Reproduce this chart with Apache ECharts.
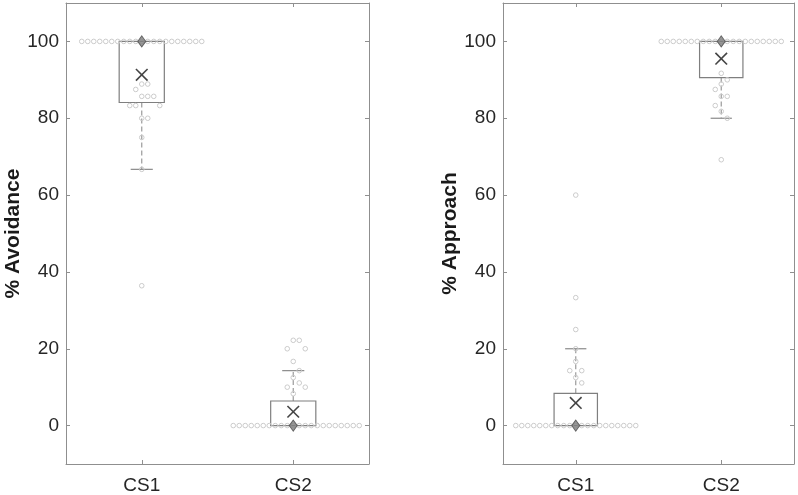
<!DOCTYPE html>
<html>
<head>
<meta charset="utf-8">
<script src="https://cdn.jsdelivr.net/npm/echarts@6/dist/echarts.min.js"></script>
<style>
  html, body { margin: 0; padding: 0; background: #fff; }
  #chart { width: 798px; height: 495px; }
</style>
</head>
<body>
<div id="chart"></div>
<script>
const categories = ['CS1', 'CS2'];
const yTicks = [0, 20, 40, 60, 80, 100];

function repeat(v, n) { return new Array(n).fill(v); }

// per-subject percentages
const avoidCS1 = repeat(100, 21).concat([88.9, 88.9, 87.5, 85.7, 85.7, 85.7, 83.3, 83.3, 83.3, 80, 80, 75, 66.7, 36.4]);
const avoidCS2 = repeat(0, 22).concat([22.2, 22.2, 20, 20, 16.7, 14.3, 12.5, 11.1, 10, 10, 8.3]);
const approachCS1 = repeat(0, 21).concat([60, 33.3, 25, 20, 16.7, 14.3, 14.3, 12.5, 11.1]);
const approachCS2 = repeat(100, 21).concat([91.7, 90, 88.9, 87.5, 85.7, 85.7, 83.3, 81.8, 80, 69.2]);

// box stats: [lower whisker, q1, median, q3, upper whisker]
const avoidBox = [[66.7, 84.1, 100, 100, 100], [0, 0, 0, 6.4, 14.3]];
const approachBox = [[0, 0, 0, 8.4, 20], [80, 90.6, 100, 100, 100]];
const avoidMean = [91.3, 3.6];
const approachMean = [5.9, 95.5];

const panels = [
  {name: '% Avoidance', groups: [avoidCS1, avoidCS2], box: avoidBox, mean: avoidMean, left: 66, width: 303, nameGap: 39},
  {name: '% Approach', groups: [approachCS1, approachCS2], box: approachBox, mean: approachMean, left: 503, width: 291, nameGap: 41}
];
const gridTop = 3, gridHeight = 463, yMin = -10, yMax = 110;
const pxPerUnit = gridHeight / (yMax - yMin);

const AXIS = '#8f8f8f';
const TEXT = '#262626';
const FONT = 'Liberation Sans, Arial, sans-serif';

// swarm: put each point at the nearest free slot beside the centre
// (a slot is taken if another point is closer than dx horizontally and dy vertically)
function swarm(values, dx, dy) {
  const placed = [];
  return values.map(function (v) {
    const y = v * pxPerUnit;
    let off = 0;
    for (let i = 0; i < 200; i++) {
      off = i === 0 ? 0 : (i % 2 ? 1 : -1) * Math.ceil(i / 2) * dx;
      const ok = placed.every(function (p) {
        return Math.abs(p[0] - off) >= dx - 0.01 || Math.abs(p[1] - y) >= dy;
      });
      if (ok) break;
    }
    placed.push([off, y]);
    return off;
  });
}

function renderBox(params, api) {
  const x = api.value(0);
  const bw = api.size([1, 0])[0];
  const half = bw * 0.149, capHalf = bw * 0.073;
  const low = api.coord([x, api.value(1)]);
  const q1 = api.coord([x, api.value(2)]);
  const q3 = api.coord([x, api.value(4)]);
  const high = api.coord([x, api.value(5)]);
  const cx = q1[0];
  const children = [];
  const dash = {stroke: '#9a9a9a', lineWidth: 1.2, lineDash: [5, 3]};
  const cap = {stroke: '#8a8a8a', lineWidth: 1.2};
  if (api.value(1) < api.value(2)) {
    children.push({type: 'line', shape: {x1: cx, y1: q1[1], x2: cx, y2: low[1]}, style: dash});
    children.push({type: 'line', shape: {x1: cx - capHalf, y1: low[1], x2: cx + capHalf, y2: low[1]}, style: cap});
  }
  if (api.value(5) > api.value(4)) {
    children.push({type: 'line', shape: {x1: cx, y1: q3[1], x2: cx, y2: high[1]}, style: dash});
    children.push({type: 'line', shape: {x1: cx - capHalf, y1: high[1], x2: cx + capHalf, y2: high[1]}, style: cap});
  }
  children.push({
    type: 'rect',
    shape: {x: cx - half, y: q3[1], width: half * 2, height: q1[1] - q3[1]},
    style: {fill: 'none', stroke: '#7f7f7f', lineWidth: 1.2}
  });
  return {type: 'group', children: children};
}

function renderPoint(params, api) {
  const c = api.coord([api.value(0), api.value(1)]);
  return {
    type: 'circle',
    shape: {cx: c[0] + api.value(2), cy: c[1], r: 2.3},
    style: {fill: 'none', stroke: '#cbcbcb', lineWidth: 1}
  };
}

function renderMean(params, api) {
  const c = api.coord([api.value(0), api.value(1)]);
  const s = 5.8;
  return {
    type: 'group',
    children: [
      {type: 'line', shape: {x1: c[0] - s, y1: c[1] - s, x2: c[0] + s, y2: c[1] + s}, style: {stroke: '#444', lineWidth: 1.6}},
      {type: 'line', shape: {x1: c[0] - s, y1: c[1] + s, x2: c[0] + s, y2: c[1] - s}, style: {stroke: '#444', lineWidth: 1.6}}
    ]
  };
}

const grid = [], xAxis = [], yAxis = [], series = [];

panels.forEach(function (p, i) {
  grid.push({left: p.left, top: gridTop, width: p.width, height: gridHeight});
  const tick = {show: true, inside: true, length: 4, alignWithLabel: true, lineStyle: {color: AXIS}};
  xAxis.push({
    gridIndex: i, type: 'category', data: categories, position: 'bottom',
    axisLine: {onZero: false, lineStyle: {color: AXIS, width: 1}},
    axisTick: tick,
    axisLabel: {fontSize: 19, color: TEXT, margin: 12, fontFamily: FONT}
  });
  xAxis.push({
    gridIndex: i, type: 'category', data: categories, position: 'top',
    axisLine: {onZero: false, lineStyle: {color: AXIS, width: 1}},
    axisTick: tick, axisLabel: {show: false}
  });
  const yTick = {show: true, inside: true, length: 4, customValues: yTicks, lineStyle: {color: AXIS}};
  yAxis.push({
    gridIndex: i, type: 'value', min: yMin, max: yMax, position: 'left',
    name: p.name, nameLocation: 'middle', nameGap: p.nameGap,
    nameTextStyle: {fontSize: 21, fontWeight: 'bold', color: '#1a1a1a', fontFamily: FONT},
    axisLine: {show: true, onZero: false, lineStyle: {color: AXIS, width: 1}},
    axisTick: yTick,
    axisLabel: {customValues: yTicks, fontSize: 19, color: TEXT, margin: 7, fontFamily: FONT},
    splitLine: {show: false}
  });
  yAxis.push({
    gridIndex: i, type: 'value', min: yMin, max: yMax, position: 'right',
    axisLine: {show: true, onZero: false, lineStyle: {color: AXIS, width: 1}},
    axisTick: yTick, axisLabel: {show: false}, splitLine: {show: false}
  });

  const xi = i * 2, yi = i * 2;
  series.push({
    type: 'custom', xAxisIndex: xi, yAxisIndex: yi, z: 2,
    renderItem: renderBox, encode: {x: 0, y: [1, 2, 3, 4, 5]},
    data: p.box.map(function (b, k) { return [k].concat(b); })
  });
  const pts = [];
  p.groups.forEach(function (vals, k) {
    const offs = swarm(vals, 6, 10);
    vals.forEach(function (v, j) { pts.push([k, v, offs[j]]); });
  });
  series.push({
    type: 'custom', xAxisIndex: xi, yAxisIndex: yi, z: 3,
    renderItem: renderPoint, encode: {x: 0, y: 1}, data: pts
  });
  series.push({
    type: 'scatter', xAxisIndex: xi, yAxisIndex: yi, z: 4,
    symbol: 'diamond', symbolSize: [8, 11],
    itemStyle: {color: '#808080', borderColor: '#4a4a4a', borderWidth: 1},
    data: p.box.map(function (b, k) { return [k, b[2]]; })
  });
  series.push({
    type: 'custom', xAxisIndex: xi, yAxisIndex: yi, z: 5,
    renderItem: renderMean, encode: {x: 0, y: 1},
    data: p.mean.map(function (m, k) { return [k, m]; })
  });
});

const chart = echarts.init(document.getElementById('chart'));
chart.setOption({
  animation: false,
  grid: grid,
  xAxis: xAxis,
  yAxis: yAxis,
  series: series
});
</script>
</body>
</html>
